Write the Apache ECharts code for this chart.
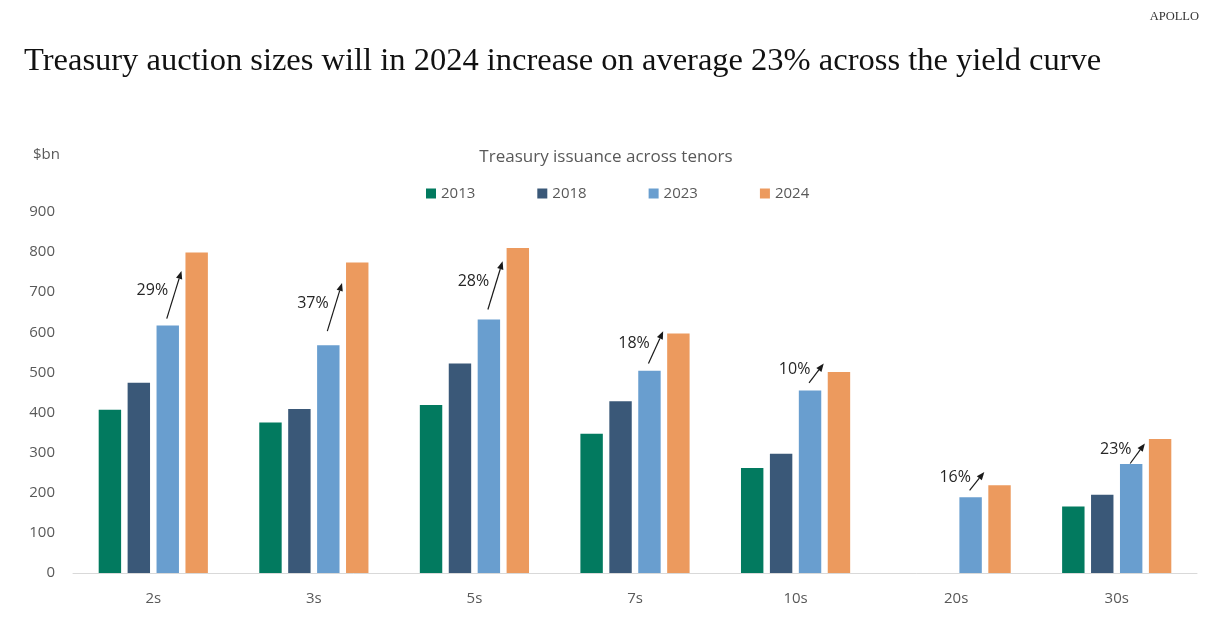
<!DOCTYPE html>
<html>
<head>
<meta charset="utf-8">
<script src="https://cdn.jsdelivr.net/npm/echarts@6/dist/echarts.min.js"></script>
<style>
html,body{margin:0;padding:0;background:#fff;}
#chart{width:1212px;height:630px;}
</style>
</head>
<body>
<div id="chart"></div>
<script>
const categories = ['2s', '3s', '5s', '7s', '10s', '20s', '30s'];
const years = ['2013', '2018', '2023', '2024'];
const v2013 = [407, 375, 419, 347, 262, null, 166];
const v2018 = [474, 409, 522, 428, 297, null, 195];
const v2023 = [617, 568, 632, 504, 455, 189, 272];
const v2024 = [799, 774, 810, 597, 501, 219, 334];
const yTicks = [0, 100, 200, 300, 400, 500, 600, 700, 800, 900];
// annotation: label, arrow start value, arrow end value
const growthLabels = ['29%', '37%', '28%', '18%', '10%', '16%', '23%'];
const arrowFrom = [634, 603, 657, 522, 474, 206, 273];
const arrowTo = [753, 723, 777, 603, 522, 252, 323];

const colors = ['#027A5F', '#3A5878', '#699ECF', '#EC9A5E'];
const barGapRatio = 0.29;
const catGapRatio = 0.32;
const grayText = '#595959';
const sans = '"Open Sans", "Noto Sans", sans-serif';

const chart = echarts.init(document.getElementById('chart'), null, {renderer: 'canvas'});

const seriesVals = [v2013, v2018, v2023, v2024];
const barSeries = years.map((y, i) => ({
  name: y,
  type: 'bar',
  data: seriesVals[i],
  itemStyle: {color: colors[i]},
  barGap: (barGapRatio * 100) + '%',
  barCategoryGap: (catGapRatio * 100) + '%',
  emphasis: {disabled: true}
}));

const annoData = categories.map((c, i) => [i, arrowFrom[i], arrowTo[i], growthLabels[i]]);

const annoSeries = {
  type: 'custom',
  name: 'growth',
  data: annoData,
  silent: true,
  z: 10,
  renderItem: function (params, api) {
    const idx = api.value(0);
    const band = api.size([1, 0])[0];
    const groupW = band * (1 - catGapRatio);
    const w = groupW / (4 + 3 * barGapRatio);
    const gap = w * barGapRatio;
    const center = api.coord([idx, 0])[0];
    const left = center - groupW / 2;
    const x1 = left + 2 * (w + gap) + w / 2 - 1;
    const x2 = left + 3 * (w + gap) - 4;
    const y1 = api.coord([idx, api.value(1)])[1];
    const y2 = api.coord([idx, api.value(2)])[1];
    const dx = x2 - x1, dy = y2 - y1;
    const len = Math.sqrt(dx * dx + dy * dy);
    const ux = dx / len, uy = dy / len;
    const hl = 8, hw = 3.2;
    const bx = x2 - ux * hl, by = y2 - uy * hl;
    const px = -uy, py = ux;
    const mx = (x1 + x2) / 2, my = (y1 + y2) / 2;
    return {
      type: 'group',
      children: [
        {type: 'line', shape: {x1: x1, y1: y1, x2: bx, y2: by}, style: {stroke: '#1a1a1a', lineWidth: 1.2}},
        {type: 'polygon', shape: {points: [[x2, y2], [bx + px * hw, by + py * hw], [bx - px * hw, by - py * hw]]}, style: {fill: '#1a1a1a'}},
        {type: 'text', x: mx - 6, y: my - 4, style: {text: api.value(3), fill: '#262626', font: '16px ' + sans, align: 'right', verticalAlign: 'middle'}}
      ]
    };
  }
};

const option = {
  animation: false,
  backgroundColor: '#ffffff',
  title: [
    {text: 'Treasury auction sizes will in 2024 increase on average 23% across the yield curve', left: 19, top: 40,
     textStyle: {fontFamily: '"Liberation Serif", serif', fontSize: 32.5, fontWeight: 'normal', color: '#111111'}},
    {text: 'APOLLO', right: 8, top: 5,
     textStyle: {fontFamily: '"Liberation Serif", serif', fontSize: 12.5, fontWeight: 'normal', color: '#333333'}},
    {text: '$bn', left: 28, top: 142,
     textStyle: {fontFamily: sans, fontSize: 15, fontWeight: 'normal', color: grayText}},
    {text: 'Treasury issuance across tenors', left: 'center', top: 144,
     textStyle: {fontFamily: sans, fontSize: 17, fontWeight: 'normal', color: grayText}}
  ],
  legend: {
    data: years,
    top: 181,
    left: 421,
    itemWidth: 10,
    itemHeight: 10,
    itemGap: 62,
    icon: 'rect',
    textStyle: {fontFamily: sans, fontSize: 15, color: grayText},
    selectedMode: false
  },
  grid: {left: 73, right: 15, top: 212, bottom: 57, containLabel: false},
  xAxis: {
    type: 'category',
    data: categories,
    axisLine: {lineStyle: {color: '#d9d9d9', width: 1}},
    axisTick: {show: false},
    axisLabel: {fontFamily: sans, fontSize: 15, color: grayText, margin: 18}
  },
  yAxis: {
    type: 'value',
    min: yTicks[0],
    max: yTicks[yTicks.length - 1],
    interval: yTicks[1] - yTicks[0],
    axisLine: {show: false},
    axisTick: {show: false},
    splitLine: {show: false},
    axisLabel: {fontFamily: sans, fontSize: 15, color: grayText, margin: 18}
  },
  series: barSeries.concat([annoSeries])
};

chart.setOption(option);
</script>
</body>
</html>
